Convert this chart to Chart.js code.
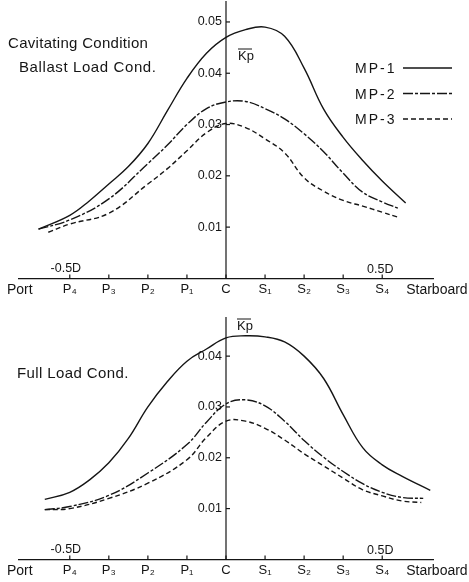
<!DOCTYPE html>
<html lang="en-US">
<head>
  <meta charset="utf-8">
  <title>Kp distribution | Chart.js</title>
  <script src="https://cdn.jsdelivr.net/npm/chart.js@4.4.0/dist/chart.umd.min.js"></script>
  <style>
    body { margin: 0; background: #fff; }
    canvas { position: absolute; left: 0; }
  </style>
</head>
<body>
  <canvas id="ballast" width="469" height="300" style="top:0"></canvas>
  <canvas id="full" width="469" height="282" style="top:300px"></canvas>

  <script>
    const FONT = "'Liberation Sans', Arial, sans-serif";
    const INK = '#151515';

    // stations along the blade / hull width
    const stations = ['P₄', 'P₃', 'P₂', 'P₁', 'C', 'S₁', 'S₂', 'S₃', 'S₄'];
    const stationPos = [-4, -3, -2, -1, 0, 1, 2, 3, 4];

    // Ballast load, cavitating
    const ballastMP1x = [-4.8, -4, -3.5, -3, -2.5, -2, -1.5, -1, -0.5, 0, 0.5, 1, 1.5, 2, 2.5, 3, 3.5, 4, 4.6];
    const ballastMP1 = [0.0096, 0.0123, 0.0151, 0.0184, 0.0218, 0.0263, 0.0327, 0.039, 0.0439, 0.047, 0.0485, 0.049, 0.0472, 0.041, 0.033, 0.0275, 0.023, 0.019, 0.0147];
    const ballastMP2x = [-4.8, -4, -3, -2, -1.5, -1, -0.5, 0, 0.5, 1, 1.5, 2, 2.5, 3, 3.5, 4, 4.4];
    const ballastMP2 = [0.0096, 0.0114, 0.0155, 0.0224, 0.026, 0.030, 0.0331, 0.0344, 0.0345, 0.0331, 0.0311, 0.0282, 0.0247, 0.0205, 0.0168, 0.0149, 0.0137];
    const ballastMP3x = [-4.55, -4, -3, -2, -1.5, -1, -0.5, 0, 0.5, 1, 1.5, 2, 2.5, 3, 3.5, 4, 4.38];
    const ballastMP3 = [0.009, 0.0106, 0.0127, 0.0184, 0.0214, 0.0249, 0.0284, 0.0302, 0.0294, 0.0272, 0.0245, 0.0196, 0.017, 0.0152, 0.0141, 0.0129, 0.012];

    // Full load
    const fullMP1x = [-4.64, -4, -3.5, -3, -2.5, -2, -1.5, -1, -0.5, 0, 0.5, 1, 1.5, 2, 2.5, 3, 3.5, 4, 4.5, 5.23];
    const fullMP1 = [0.0118, 0.0132, 0.0156, 0.019, 0.0238, 0.030, 0.035, 0.039, 0.0414, 0.0436, 0.044, 0.0438, 0.0428, 0.040, 0.0356, 0.0285, 0.022, 0.0186, 0.0164, 0.0136];
    const fullMP2x = [-4.64, -4, -3, -2, -1, -0.5, 0, 0.5, 1, 1.5, 2, 2.5, 3, 3.5, 4, 4.5, 5.05];
    const fullMP2 = [0.0098, 0.0104, 0.0126, 0.017, 0.0226, 0.027, 0.0306, 0.0314, 0.0302, 0.0272, 0.0234, 0.0201, 0.0173, 0.0149, 0.0132, 0.0122, 0.012];
    const fullMP3x = [-4.64, -4, -3, -2, -1, -0.5, 0, 0.5, 1, 1.5, 2, 2.5, 3, 3.5, 4, 4.5, 5.0];
    const fullMP3 = [0.0098, 0.010, 0.012, 0.015, 0.0196, 0.024, 0.0272, 0.0272, 0.0258, 0.0235, 0.0208, 0.0184, 0.016, 0.0137, 0.0125, 0.0115, 0.0112];

    const ballastTicks = [0.01, 0.02, 0.03, 0.04, 0.05];
    const fullTicks = [0.01, 0.02, 0.03, 0.04];
    const seriesNames = ['MP-1', 'MP-2', 'MP-3'];
    const dashes = [[], [10, 2, 3, 2], [5, 3]];

    function pts(xs, ys) {
      return xs.map((v, i) => ({x: v, y: ys[i]}));
    }

    function line(ctx, x1, y1, x2, y2) {
      ctx.beginPath();
      ctx.moveTo(x1, y1);
      ctx.lineTo(x2, y2);
      ctx.stroke();
    }

    function text(ctx, str, x, y, size, spacing, align) {
      ctx.font = size + 'px ' + FONT;
      ctx.letterSpacing = (spacing || 0) + 'px';
      ctx.textAlign = align || 'left';
      ctx.fillText(str, x, y);
      ctx.letterSpacing = '0px';
    }

    // axis through C, tick marks, end labels, notes and legend
    const decor = {
      id: 'decor',
      afterDraw(chart, args, opts) {
        const {ctx, chartArea} = chart;
        const xs = chart.scales.x, ys = chart.scales.y;
        const x0 = xs.getPixelForValue(0);
        const base = ys.getPixelForValue(0);
        ctx.save();
        ctx.strokeStyle = INK;
        ctx.fillStyle = INK;
        ctx.lineWidth = 1.2;

        line(ctx, x0, chartArea.top - opts.axisExtra, x0, base);
        ctx.textBaseline = 'middle';
        opts.yTicks.forEach(v => {
          const py = ys.getPixelForValue(v);
          line(ctx, x0, py, x0 + 4, py);
          text(ctx, v.toFixed(2), x0 - 4, py, 12.5, 0, 'right');
        });
        stationPos.forEach(v => {
          const px = xs.getPixelForValue(v);
          line(ctx, px, base, px, base - 4);
        });

        const labelY = base + 12;
        text(ctx, 'Port', xs.getPixelForValue(-5.28), labelY, 14, 0, 'center');
        text(ctx, 'Starboard', xs.getPixelForValue(5.4), labelY, 14, 0, 'center');

        ctx.textBaseline = 'alphabetic';
        text(ctx, '-0.5D', xs.getPixelForValue(-4.1), base - 6, 12.5, 0, 'center');
        text(ctx, '0.5D', xs.getPixelForValue(3.95), base - 5, 12.5, 0, 'center');

        opts.notes.forEach(n => text(ctx, n.t, n.x, n.y, n.size, n.sp, 'left'));

        // Kp with bar
        text(ctx, 'Kp', opts.kp.x, opts.kp.y, 13, 0, 'left');
        ctx.lineWidth = 1;
        line(ctx, opts.kp.x, opts.kp.y - 11, opts.kp.x + 14, opts.kp.y - 11);

        if (opts.legend) {
          chart.data.datasets.forEach((ds, i) => {
            const ly = opts.legend.y + i * 25.5;
            text(ctx, ds.label, opts.legend.x, ly + 5, 14, 2, 'left');
            ctx.lineWidth = 1.4;
            ctx.setLineDash(ds.borderDash);
            line(ctx, opts.legend.x + 48, ly, opts.legend.x + 97, ly);
            ctx.setLineDash([]);
          });
        }
        ctx.restore();
      }
    };

    function makeChart(id, sets, yMax, padTop, padBottom, decorOpts) {
      return new Chart(id, {
        type: 'line',
        data: {
          datasets: sets.map((d, i) => ({
            label: seriesNames[i],
            data: d,
            borderColor: INK,
            borderWidth: 1.4,
            borderDash: dashes[i],
            pointRadius: 0,
            fill: false,
            tension: 0.4
          }))
        },
        options: {
          responsive: false,
          animation: false,
          layout: {padding: {left: 19, right: 36, top: padTop, bottom: padBottom}},
          plugins: {
            legend: {display: false},
            tooltip: {enabled: false},
            decor: decorOpts
          },
          scales: {
            x: {
              type: 'linear',
              min: -5.3,
              max: 5.3,
              afterBuildTicks: s => { s.ticks = stationPos.map(v => ({value: v})); },
              grid: {drawOnChartArea: false, drawTicks: false},
              border: {color: INK, width: 1.2},
              ticks: {
                autoSkip: false,
                maxRotation: 0,
                padding: 3,
                color: INK,
                font: {family: FONT, size: 13},
                callback: (v, i) => stations[i]
              }
            },
            y: {display: false, min: 0, max: yMax}
          }
        },
        plugins: [decor]
      });
    }

    makeChart('ballast',
      [pts(ballastMP1x, ballastMP1), pts(ballastMP2x, ballastMP2), pts(ballastMP3x, ballastMP3)],
      0.0535, 4, 0, {
        yTicks: ballastTicks,
        axisExtra: 3,
        notes: [
          {t: 'Cavitating Condition', x: 8, y: 47.5, size: 15, sp: 0.3},
          {t: 'Ballast Load Cond.', x: 19, y: 72, size: 15, sp: 0.6}
        ],
        kp: {x: 238, y: 60},
        legend: {x: 355, y: 68}
      });

    makeChart('full',
      [pts(fullMP1x, fullMP1), pts(fullMP2x, fullMP2), pts(fullMP3x, fullMP3)],
      0.0477, 17, 1, {
        yTicks: fullTicks,
        axisExtra: 0,
        notes: [
          {t: 'Full Load Cond.', x: 17, y: 78, size: 15, sp: 0.4}
        ],
        kp: {x: 237, y: 30},
        legend: null
      });
  </script>
</body>
</html>
